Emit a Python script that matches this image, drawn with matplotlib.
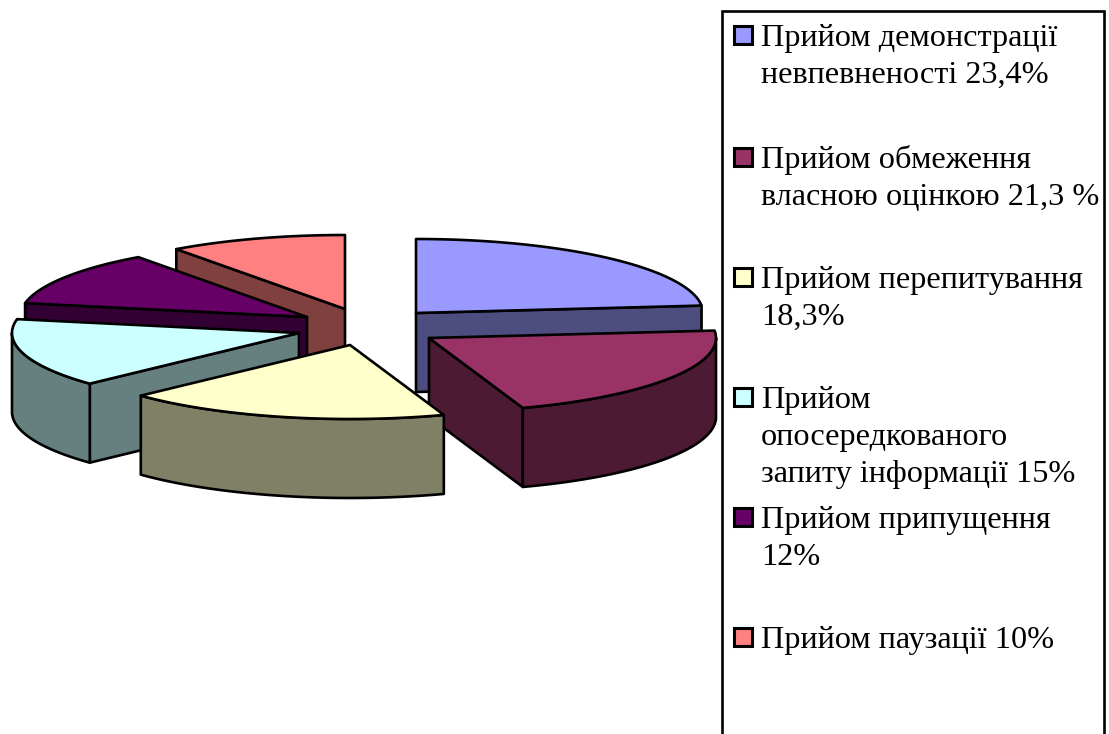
#!/usr/bin/env python3

import numpy as np
import matplotlib
matplotlib.use("Agg")
import matplotlib.pyplot as plt
from matplotlib.patches import Polygon, Rectangle

plt.rcParams["font.family"] = ["Liberation Serif", "DejaVu Serif"]

shares = [23.4, 21.3, 18.3, 15, 12, 10]
legend_lines = [
    ["Прийом демонстрації", "невпевненості 23,4%"],
    ["Прийом обмеження", "власною оцінкою 21,3 %"],
    ["Прийом перепитування", "18,3%"],
    ["Прийом", "опосередкованого", "запиту інформації 15%"],
    ["Прийом припущення", "12%"],
    ["Прийом паузації 10%"],
]
top_colors = ["#9999FF", "#993366", "#FFFFCC", "#CCFFFF", "#660066", "#FF8080"]
side_colors = ["#4D4D80", "#4D1A33", "#808066", "#668080", "#330033", "#804040"]

# layout in pixels, apex of every exploded slice
apex_x = [416, 429, 350, 299, 307, 345]
apex_y = [313, 338, 345, 333, 317, 309]
rx, ry, depth = 287, 74, 79
draw_order = [5, 4, 0, 3, 1, 2]
lw = 1.9

fig = plt.figure(figsize=(11.09, 7.34), dpi=100)
ax = fig.add_axes([0, 0, 1, 1])
ax.set_xlim(0, 1109)
ax.set_ylim(734, 0)
ax.axis("off")


def arc(cx, cy, t1, t2):
    t = np.radians(np.linspace(t1, t2, 80))
    # y axis points down, so a positive sine goes up on the page
    return np.column_stack([cx + rx * np.cos(t), cy - ry * np.sin(t)])


def face(pts, color, z):
    ax.add_patch(Polygon(pts, closed=True, facecolor=color, edgecolor="black",
                         linewidth=lw, joinstyle="round", zorder=z))


edges = 90 - np.cumsum([0] + shares) * 3.6
z = 1
for i in draw_order:
    t1, t2 = edges[i], edges[i + 1]
    cx, cy = apex_x[i], apex_y[i]

    # radial walls, only the ones turned to the viewer
    for t, normal in ((t1, t1 + 90), (t2, t2 - 90)):
        if np.sin(np.radians(normal)) < -1e-6:
            p = arc(cx, cy, t, t)[0]
            face([(cx, cy), p, p + (0, depth), (cx, cy + depth)], side_colors[i], z)
            z += 1

    # outer wall, lower half of the ellipse only
    lo, hi = max(t2, -180), min(t1, 0)
    if hi > lo:
        rim = arc(cx, cy, hi, lo)
        face(np.vstack([rim, rim[::-1] + (0, depth)]), side_colors[i], z)
        z += 1

    face(np.vstack([[(cx, cy)], arc(cx, cy, t1, t2)]), top_colors[i], z)
    z += 1

# legend frame runs off the bottom of the picture
ax.add_patch(Rectangle((722, 10.5), 382, 740, facecolor="white", edgecolor="black",
                       linewidth=1.9, zorder=z))
z += 1

swatch_y = [35, 157, 277, 397, 517, 637]
for color, sy, lines in zip(top_colors, swatch_y, legend_lines):
    ax.add_patch(Rectangle((734, sy - 9), 18, 18, facecolor=color, edgecolor="black",
                           linewidth=2.2, zorder=z))
    for k, line in enumerate(lines):
        ax.text(761, sy + 11 + k * 37, line, fontsize=23.2, color="black",
                ha="left", va="baseline", zorder=z)

fig.savefig("out.png", dpi=100, facecolor="white")
